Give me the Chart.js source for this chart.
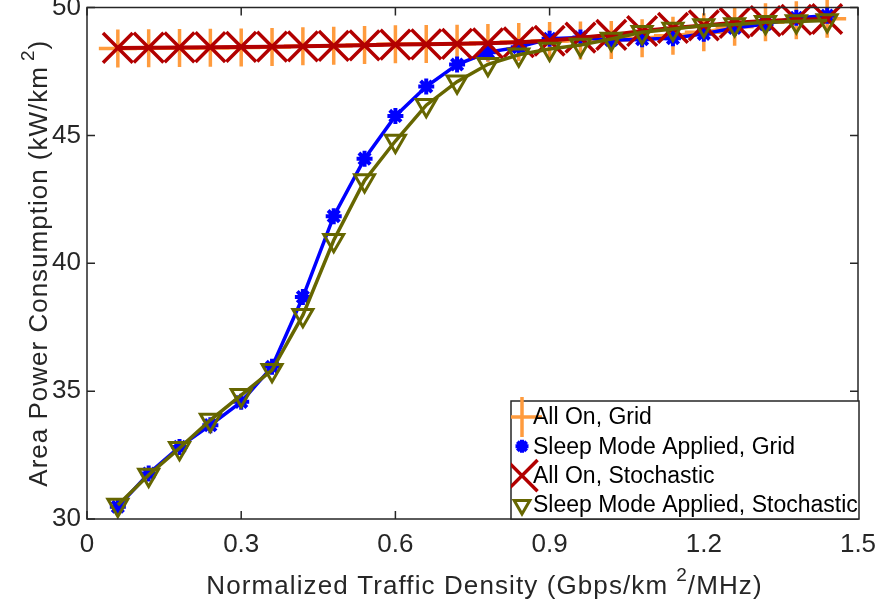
<!DOCTYPE html>
<html>
<head>
<meta charset="utf-8">
<script src="https://cdn.jsdelivr.net/npm/chart.js@4.4.0/dist/chart.umd.min.js"></script>
<style>
  html, body { margin: 0; padding: 0; background: #fff; }
  #wrap { width: 883px; height: 610px; position: relative; }
</style>
</head>
<body>
<div id="wrap"><canvas id="chart" width="883" height="610"></canvas></div>
<script>
// traffic density (Gbps/km^2/MHz)
const density = [0.06, 0.12, 0.18, 0.24, 0.30, 0.36, 0.42, 0.48, 0.54, 0.60, 0.66, 0.72,
                 0.78, 0.84, 0.90, 0.96, 1.02, 1.08, 1.14, 1.20, 1.26, 1.32, 1.38, 1.44];

// area power consumption (kW/km^2)
const allOnGrid = [48.40, 48.41, 48.42, 48.43, 48.44, 48.46, 48.48, 48.50, 48.53, 48.56, 48.57, 48.58,
                   48.61, 48.65, 48.69, 48.71, 48.73, 48.80, 48.90, 49.03, 49.25, 49.42, 49.50, 49.56];
const sleepGrid = [30.48, 31.78, 32.82, 33.67, 34.58, 35.95, 38.68, 41.84, 44.09, 45.76, 46.91, 47.77,
                   48.25, 48.45, 48.78, 48.83, 48.72, 48.76, 48.80, 48.97, 49.20, 49.35, 49.60, 49.68];
const allOnStoch = [48.42, 48.43, 48.44, 48.45, 48.46, 48.47, 48.48, 48.50, 48.52, 48.55, 48.56, 48.58,
                    48.60, 48.64, 48.70, 48.82, 48.93, 49.08, 49.20, 49.30, 49.40, 49.47, 49.52, 49.55];
const sleepStoch = [30.55, 31.72, 32.77, 33.87, 34.84, 35.82, 37.97, 40.90, 43.24, 44.78, 46.18, 47.10,
                    47.78, 48.15, 48.38, 48.53, 48.77, 49.03, 49.16, 49.30, 49.34, 49.42, 49.45, 49.49];

const seriesLabels = ["All On, Grid", "Sleep Mode Applied, Grid", "All On, Stochastic", "Sleep Mode Applied, Stochastic"];
const xTicks = [0, 0.3, 0.6, 0.9, 1.2, 1.5];
const yTicks = [30, 35, 40, 45, 50];

const FONT = "'Liberation Sans', Arial, sans-serif";
const INK = "#262626";

const pts = (ys) => density.map((x, i) => ({ x: x, y: ys[i] }));

const datasets = [
  {
    label: seriesLabels[0], data: pts(allOnGrid), order: 3,
    borderColor: "#FF9B3D", backgroundColor: "#FF9B3D", borderWidth: 3.5,
    pointStyle: "cross", pointRadius: 19, pointBorderWidth: 3.5, pointRotation: 0,
    legendRadius: 20,
  },
  {
    label: seriesLabels[1], data: pts(sleepGrid), order: 2,
    borderColor: "#0000FF", backgroundColor: "#0000FF", borderWidth: 3.5,
    pointStyle: "star", pointRadius: 8, pointBorderWidth: 4, pointRotation: 0,
    legendRadius: 6.5,
  },
  {
    label: seriesLabels[2], data: pts(allOnStoch), order: 1,
    borderColor: "#B20000", backgroundColor: "#B20000", borderWidth: 4,
    pointStyle: "crossRot", pointRadius: 21, pointBorderWidth: 3.5, pointRotation: 0,
    legendRadius: 22,
  },
  {
    label: seriesLabels[3], data: pts(sleepStoch), order: 0,
    borderColor: "#666600", backgroundColor: "rgba(0,0,0,0)", borderWidth: 3.5,
    pointStyle: "triangle", pointRadius: 11.5, pointBorderWidth: 3, pointRotation: 180,
    legendRadius: 9,
  },
];
datasets.forEach((d) => {
  d.pointBorderColor = d.borderColor;
  d.pointBackgroundColor = "rgba(0,0,0,0)";
  d.pointHoverRadius = d.pointRadius;
  d.tension = 0;
  d.fill = false;
  d.clip = false;
});

// draws text with a raised "2" in the middle
function drawSup(ctx, before, sup, after, x, y, size, spacing, gap) {
  ctx.letterSpacing = spacing + "px";
  ctx.font = size + "px " + FONT;
  const supFont = Math.round(size * 0.72) + "px " + FONT;
  const w1 = ctx.measureText(before).width;
  const w3 = ctx.measureText(after).width;
  ctx.font = supFont;
  const w2 = ctx.measureText(sup).width;
  const total = w1 + gap + w2 + w3;
  let cx = x - total / 2;
  ctx.textAlign = "left";
  ctx.textBaseline = "middle";
  ctx.font = size + "px " + FONT;
  ctx.fillText(before, cx, y);
  cx += w1 + gap;
  ctx.font = supFont;
  ctx.fillText(sup, cx, y - size * 0.42);
  cx += w2;
  ctx.font = size + "px " + FONT;
  ctx.fillText(after, cx, y);
  ctx.letterSpacing = "0px";
}

const framePlugin = {
  id: "frame",
  afterDraw(chart) {
    const ctx = chart.ctx;
    const a = chart.chartArea;
    const xs = chart.scales.x, ys = chart.scales.y;
    ctx.save();
    ctx.strokeStyle = INK;
    ctx.lineWidth = 1.5;
    ctx.strokeRect(a.left, a.top, a.right - a.left, a.bottom - a.top);
    const tl = 8;
    ctx.beginPath();
    xTicks.forEach((v) => {
      const px = xs.getPixelForValue(v);
      ctx.moveTo(px, a.bottom); ctx.lineTo(px, a.bottom - tl);
      ctx.moveTo(px, a.top); ctx.lineTo(px, a.top + tl);
    });
    yTicks.forEach((v) => {
      const py = ys.getPixelForValue(v);
      ctx.moveTo(a.left, py); ctx.lineTo(a.left + tl, py);
      ctx.moveTo(a.right, py); ctx.lineTo(a.right - tl, py);
    });
    ctx.stroke();

    // axis titles
    ctx.fillStyle = INK;
    drawSup(ctx, "Normalized Traffic Density (Gbps/km", "2", "/MHz)", (a.left + a.right) / 2 + 12, 587, 26, 1.1, 8);
    ctx.save();
    ctx.translate(40, (a.top + a.bottom) / 2);
    ctx.rotate(-Math.PI / 2);
    drawSup(ctx, "Area Power Consumption (kW/km", "2", ")", 0, 0, 26, 1, 5);
    ctx.restore();

    // legend box
    const lx = 511, ly = 401, lw = 348, lh = 118;
    ctx.fillStyle = "#fff";
    ctx.fillRect(lx, ly, lw, lh);
    ctx.strokeStyle = INK;
    ctx.lineWidth = 1.5;
    ctx.strokeRect(lx, ly, lw, lh);
    ctx.save();
    ctx.beginPath();
    ctx.rect(lx, ly - 30, lw, lh + 30);
    ctx.clip();
    ctx.font = "23px " + FONT;
    ctx.textAlign = "left";
    ctx.textBaseline = "middle";
    chart.data.datasets.forEach((d, i) => {
      const yy = 417 + i * 29.3;
      ctx.strokeStyle = d.borderColor;
      ctx.fillStyle = d.pointBackgroundColor;
      ctx.lineWidth = d.pointBorderWidth;
      Chart.helpers.drawPoint(ctx, {
        pointStyle: d.pointStyle, radius: d.legendRadius,
        rotation: d.pointRotation, borderWidth: d.pointBorderWidth,
      }, 522, yy);
      ctx.fillStyle = "#000";
      ctx.fillText(d.label, 533, yy + 1);
    });
    ctx.restore();
    ctx.restore();
  },
};

new Chart(document.getElementById("chart"), {
  type: "line",
  data: { datasets: datasets },
  options: {
    responsive: false,
    animation: false,
    events: [],
    layout: { autoPadding: false, padding: { left: 0, right: 25, top: 7.5, bottom: 0 } },
    plugins: { legend: { display: false }, tooltip: { enabled: false } },
    scales: {
      x: {
        type: "linear", min: 0, max: 1.5,
        afterBuildTicks: (s) => { s.ticks = xTicks.map((v) => ({ value: v })); },
        afterFit: (s) => { s.height = 91; s.paddingLeft = 0; s.paddingRight = 0; },
        grid: { display: false, drawTicks: false },
        border: { display: false },
        ticks: {
          color: INK, padding: 10, maxRotation: 0,
          font: { family: FONT, size: 26 },
          callback: (v) => String(Math.round(v * 10) / 10),
        },
      },
      y: {
        type: "linear", min: 30, max: 50,
        afterBuildTicks: (s) => { s.ticks = yTicks.map((v) => ({ value: v })); },
        afterFit: (s) => { s.width = 87; s.paddingTop = 0; s.paddingBottom = 0; },
        grid: { display: false, drawTicks: false },
        border: { display: false },
        ticks: {
          color: INK, padding: 6,
          font: { family: FONT, size: 26 },
        },
      },
    },
  },
  plugins: [framePlugin],
});
</script>
</body>
</html>
